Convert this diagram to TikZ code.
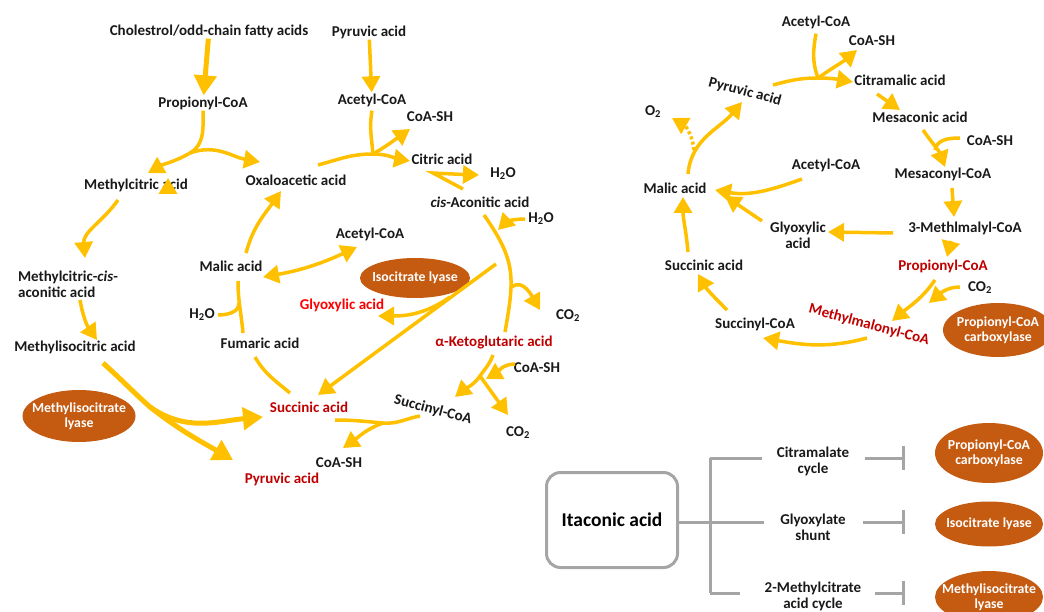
\documentclass[tikz,border=0pt]{standalone}
\usepackage{fontspec}
\setmainfont{Carlito}
\usetikzlibrary{arrows.meta,shapes.geometric}
\definecolor{gold}{HTML}{FFC000}
\definecolor{rust}{HTML}{C55A11}
\definecolor{dred}{HTML}{C00000}
\definecolor{bred}{HTML}{FF0000}
\definecolor{grayline}{HTML}{A5A5A5}
\newcommand{\water}{H\textsubscript{2}O}
\newcommand{\carbdi}{CO\textsubscript{2}}
\tikzset{
  lbl/.style={font=\bfseries\fontsize{15}{16}\selectfont, inner sep=1pt, text=black!90},
  redlbl/.style={lbl, text=dred},
  glxlbl/.style={lbl, text=bred},
  enz/.style={ellipse, fill=rust, text=white, font=\bfseries\fontsize{13.8}{15.5}\selectfont,
    align=center, inner xsep=-16pt, inner ysep=-6pt},
  conn/.style={draw=gold, line width=3.5pt},
  flow/.style={conn, -{Triangle[length=16pt,width=18pt]}},
  flowbig/.style={draw=gold, line width=5pt, -{Triangle[length=20pt,width=22pt]}},
  both/.style={conn, {Triangle[length=16pt,width=18pt]}-{Triangle[length=16pt,width=18pt]}},
  tree/.style={draw=grayline, line width=3pt},
  inhib/.style={tree, -{Bar[width=24pt]}},
  itabox/.style={draw=grayline, line width=3pt, rounded corners=14pt, minimum width=131pt,
    minimum height=95pt, font=\bfseries\fontsize{19.5}{21}\selectfont}
}
\begin{document}
\begin{tikzpicture}[x=1pt,y=1pt]
  \useasboundingbox (0,0) rectangle (1044,-612);
  % left panel
  \node[lbl] (chol) at (209,-31) {Cholestrol/odd-chain fatty acids};
  \node[lbl] (pyr0) at (369,-32) {Pyruvic acid};
  \node[lbl] (prop) at (203,-103) {Propionyl-CoA};
  \node[lbl] (acoa1) at (372,-100) {Acetyl-CoA};
  \node[lbl] (coash1) at (430,-117) {CoA-SH};
  \node[lbl] (mca) at (136,-185) {Methylcitric acid};
  \node[lbl] (oaa) at (296,-180) {Oxaloacetic acid};
  \node[lbl] (cit) at (442,-159) {Citric acid};
  \node[lbl] (wat1) at (503,-174) {\water};
  \node[lbl] (cisa) at (480,-202) {\textit{cis}-Aconitic acid};
  \node[lbl] (wat2) at (541,-219) {\water};
  \node[lbl] (acoa2) at (370,-234) {Acetyl-CoA};
  \node[lbl] (mal) at (231,-266) {Malic acid};
  \node[enz, minimum width=110pt, minimum height=40pt] (icl) at (415,-278) {Isocitrate lyase};
  \node[lbl, align=left] (mcca) at (68,-284) {Methylcitric-\textit{cis}-\\aconitic acid};
  \node[glxlbl] (glx) at (342,-305) {Glyoxylic acid};
  \node[lbl] (wat3) at (202,-315) {\water};
  \node[lbl] (co21) at (568,-316) {\carbdi};
  \node[lbl] (mic) at (75,-347) {Methylisocitric acid};
  \node[lbl] (fum) at (260,-343) {Fumaric acid};
  \node[redlbl] (akg) at (494,-343) {α-Ketoglutaric acid};
  \node[lbl] (coash2) at (537,-368) {CoA-SH};
  \node[lbl, rotate=-15] (scoa) at (433,-410) {Succinyl-CoA};
  \node[enz, minimum width=113pt, minimum height=52pt] (micl) at (79,-416) {Methylisocitrate\\lyase};
  \node[redlbl] (suc) at (309,-407) {Succinic acid};
  \node[lbl] (co22) at (518,-433) {\carbdi};
  \node[lbl] (coash3) at (339,-463) {CoA-SH};
  \node[redlbl] (pyr1) at (282,-479) {Pyruvic acid};

  \coordinate (j1) at (190,-153);
  \coordinate (j2) at (150,-407);
  \coordinate (j3) at (373,-154);
  \coordinate (j4) at (433,-173);
  \coordinate (j5) at (480,-376);
  \coordinate (j6) at (383,-423);
  \coordinate (j7) at (450,-297);
  \coordinate (iso) at (496,-264);
  \coordinate (a2) at (512,-287);
  \coordinate (m1) at (239,-303);

  \draw[flowbig] (chol) -- (prop);
  \draw[flow] (prop.south) to[out=-90,in=30] (j1) to[out=210,in=30] ([shift={(12,12)}]mca.center);
  \draw[flow] (j1) to[out=20,in=170] ([shift={(-36,18)}]oaa.center);
  \draw[flow] ([shift={(32,-7)}]mca.center) -- ([shift={(32,7)}]mca.center);
  \draw[flow] ([shift={(-18,-15)}]mca.center) to[out=235,in=95] ([shift={(17,26)}]mcca.center);
  \draw[flow] ([shift={(12,-16)}]mcca.center) to[out=-80,in=125] ([shift={(22,7)}]mic.center);
  \draw[flowbig] ([shift={(28,-16)}]mic.center) to[out=-42,in=138] (j2) to[out=-38,in=150] ([shift={(-49,19)}]pyr1.center);
  \draw[flowbig] (j2) to[out=-35,in=185] ([shift={(-46,-10)}]suc.center);

  \draw[flow] (pyr0) -- (acoa1);
  \draw[flow] ([shift={(22,15)}]oaa.center) to[out=15,in=180] (j3) to[out=0,in=170] ([shift={(-32,-2)}]cit.center);
  \draw[conn] ([yshift=-3]acoa1.south) to[out=-100,in=95] (j3);
  \draw[flow] (j3) to[out=30,in=215] ([shift={(-20,-12)}]coash1.center);
  \draw[flow] ([shift={(-17,13)}]cisa.center) -- (j4) to[out=-3,in=178] ([shift={(-24,-1)}]wat1.center);
  \draw[conn] ([shift={(4,-13)}]cisa.center) to[out=-55,in=80,looseness=1.2] ([shift={(11,11)}]akg.center);
  \draw[flow] ([xshift=-2]wat2.west) to[out=180,in=45] ([shift={(-43,-11)}]wat2.center);
  \draw[flow] (a2) to[out=40,in=120] ([shift={(-28,6)}]co21.center);

  \draw[flow] ([shift={(-1,-12)}]akg.center) to[out=-110,in=55] (j5) to[out=235,in=40] ([shift={(22,13)}]scoa.center);
  \draw[flow] ([shift={(-22,4)}]coash2.center) to[out=180,in=30] ([shift={(6,-3)}]j5);
  \draw[flow] (j5) -- ([shift={(-10,18)}]co22.center);
  \draw[conn] ([shift={(-13,-6)}]scoa.center) to[out=190,in=-5] (j6) to[out=175,in=0] ([shift={(26,-13)}]suc.center);
  \draw[flow] (j6) to[out=200,in=35] ([shift={(4,15)}]coash3.center);
  \draw[conn] ([shift={(-19,14)}]suc.center) to[out=140,in=-60] ([shift={(-5,-14)}]fum.center);
  \draw[conn] ([shift={(-17,10)}]fum.center) to[out=95,in=-90] ([shift={(7,-15)}]mal.center);
  \draw[conn] ([xshift=2]wat3.east) to[out=0,in=-90] (m1);
  \draw[flow] ([shift={(15,13)}]mal.center) to[out=75,in=235] ([shift={(-15,-11)}]oaa.center);
  \draw[both] ([shift={(32,-11)}]mal.center) to[out=10,in=205] ([shift={(-13,-13)}]acoa2.center);
  \draw[flow] (iso) -- ([shift={(9,12)}]suc.center);
  \draw[flow] (j7) to[out=215,in=0] ([shift={(36,-11)}]glx.center);

  % right panel
  \node[lbl] (acoa3) at (816,-22) {Acetyl-CoA};
  \node[lbl] (coash4) at (872,-41) {CoA-SH};
  \node[lbl, rotate=-15] (pyr2) at (745,-92) {Pyruvic acid};
  \node[lbl] (cma) at (900,-80) {Citramalic acid};
  \node[lbl] (oxy) at (653,-112) {O\textsubscript{2}};
  \node[lbl] (mes) at (920,-117) {Mesaconic acid};
  \node[lbl] (coash5) at (990,-141) {CoA-SH};
  \node[lbl] (acoa4) at (826,-165) {Acetyl-CoA};
  \node[lbl] (mal2) at (675,-188) {Malic acid};
  \node[lbl] (mescoa) at (943,-174) {Mesaconyl-CoA};
  \node[lbl, align=center] (glx2) at (798,-235) {Glyoxylic\\acid};
  \node[lbl] (mmal) at (965,-228) {3-Methlmalyl-CoA};
  \node[lbl] (suc2) at (704,-265) {Succinic acid};
  \node[redlbl] (prop2) at (943,-266) {Propionyl-CoA};
  \node[lbl] (co23) at (980,-288) {\carbdi};
  \node[redlbl, rotate=-15] (mmcoa) at (869,-325) {Methylmalonyl-CoA};
  \node[lbl] (scoa2) at (755,-324) {Succinyl-CoA};
  \node[enz, minimum width=110pt, minimum height=54pt] (pcc) at (998,-330) {Propionyl-CoA\\carboxylase};

  \coordinate (j8) at (818,-78);
  \coordinate (jm) at (935,-150);
  \coordinate (jd) at (694,-150);

  \draw[conn] ([yshift=-4]acoa3.south) to[out=-100,in=110] (j8);
  \draw[flow] ([shift={(28,7)}]pyr2.center) to[out=15,in=180] (j8) to[out=0,in=170] ([shift={(-47,-2)}]cma.center);
  \draw[flow] (j8) to[out=35,in=220] ([shift={(-15,-9)}]coash4.center);
  \draw[flow] ([shift={(-23,-14)}]cma.center) -- ([shift={(-20,7)}]mes.center);
  \draw[flow] ([shift={(3,-13)}]mes.center) to[out=-55,in=110] ([shift={(2,7)}]mescoa.center);
  \draw[conn] ([shift={(-30,3)}]coash5.center) to[out=180,in=80] (jm);
  \draw[flow] ([shift={(9,-14)}]mescoa.center) -- ([shift={(-11,11)}]mmal.center);
  \draw[flow] ([shift={(-14,-13)}]mmal.center) -- ([shift={(4,9)}]prop2.center);
  \draw[flow] ([shift={(-72,-5)}]mmal.center) -- ([shift={(30,3)}]glx2.center);
  \draw[flow] ([shift={(-36,14)}]glx2.center) -- ([shift={(50,-8)}]mal2.center);
  \draw[flow] ([shift={(-24,-14)}]acoa4.center) to[out=200,in=-10] ([shift={(40,-2)}]mal2.center);
  \draw[flow] ([shift={(-8,-14)}]prop2.center) to[out=-125,in=40] ([shift={(23,4)}]mmcoa.center);
  \draw[flow] ([shift={(-20,1)}]co23.center) to[out=180,in=40] ([shift={(-51,-15)}]co23.center);
  \draw[flow] ([shift={(-2,-13)}]mmcoa.center) to[out=195,in=-10] ([shift={(8,-14)}]scoa2.center);
  \draw[flow] ([shift={(-28,14)}]scoa2.center) to[out=135,in=-60] ([shift={(-6,-9)}]suc2.center);
  \draw[flow] ([shift={(-16,13)}]suc2.center) to[out=95,in=-90] ([shift={(8,-9)}]mal2.center);
  \draw[flow] ([shift={(13,14)}]mal2.center) to[out=85,in=230] ([shift={(-3,-10)}]pyr2.center);
  \draw[flow, dash pattern=on 3pt off 2.5pt] (jd) to[out=95,in=-30] ([shift={(19,-6)}]oxy.center);

  % itaconic acid targets
  \node[itabox] (ita) at (612,-520) {Itaconic acid};
  \node[lbl, align=center] (cmc) at (813,-461) {Citramalate\\cycle};
  \node[lbl, align=center] (gsh) at (813,-527) {Glyoxylate\\shunt};
  \node[lbl, align=center] (mcc) at (813,-596) {2-Methylcitrate\\acid cycle};
  \node[enz, minimum width=108pt, minimum height=60pt] (pcc2) at (989,-453) {Propionyl-CoA\\carboxylase};
  \node[enz, minimum width=108pt, minimum height=45pt] (icl2) at (989,-524) {Isocitrate lyase};
  \node[enz, minimum width=108pt, minimum height=52pt] (micl2) at (989,-597) {Methylisocitrate\\lyase};

  \coordinate (t0) at (710,-522);
  \coordinate (t1) at (710,-458);
  \coordinate (t3) at (710,-593);

  \draw[tree] (ita.east |- t0) -- (t0);
  \draw[tree] (t1) -- (t3);
  \draw[tree] (t1) -- ([xshift=-14]t1 -| cmc.west);
  \draw[tree] (t0) -- ([xshift=-15]t0 -| gsh.west);
  \draw[tree] (t3) -- ([xshift=-24]t3 -| mcc.west);
  \draw[inhib] ([xshift=15]cmc.east |- t1) -- ([xshift=-30]t1 -| pcc2.west);
  \draw[inhib] ([xshift=16]gsh.east |- t0) -- ([xshift=-30]t0 -| icl2.west);
  \draw[inhib] ([xshift=13]mcc.east |- t3) -- ([xshift=-30]t3 -| micl2.west);
\end{tikzpicture}
\end{document}
